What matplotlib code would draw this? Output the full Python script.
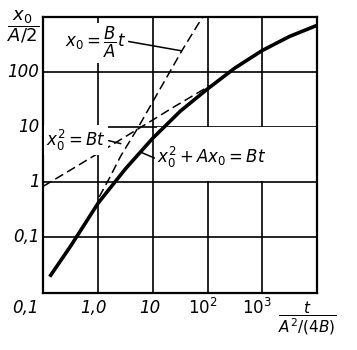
import matplotlib
matplotlib.use("Agg")
import matplotlib.pyplot as plt
from matplotlib.patches import Rectangle
from matplotlib.transforms import ScaledTranslation

plt.rcParams['font.family'] = ['DejaVu Sans']
plt.rcParams['mathtext.fontset'] = 'dejavusans'

# ---- data (t / (A^2/(4B)),  x0 / (A/2)) ----
tau_solid = [0.13, 0.32, 1, 3.2, 10, 32, 100, 316, 1000, 3160, 10000]
y_solid   = [0.0195, 0.072, 0.42, 1.78, 6.3, 19.5, 49, 117, 243, 437, 692]

tau_lin = [1.04, 1.57, 2.57, 5.4, 13.4, 35, 81]
y_lin   = [0.54, 1.14, 2.95, 9.9, 48, 254, 980]

tau_par = [0.1, 0.31, 0.55, 1.7, 5.9, 11.7, 23, 47, 110]
y_par   = [0.85, 1.66, 2.34, 4.6, 9.8, 14.8, 22.4, 34, 56]

x_ticks = [0.1, 1, 10, 100, 1000]
x_ticklabels = ['0,1', '1,0', '10', r'$\mathit{10}^{\mathit{2}}$', r'$\mathit{10}^{\mathit{3}}$']
x_label_shift_px = [-18, -5, -3, -5, -5]
y_ticks = [0.1, 1, 10, 100]
y_ticklabels = ['0,1', '1', '10', '100']

fig = plt.figure(figsize=(3.57, 3.50), dpi=100)
ax = fig.add_axes([0.1218, 0.1637, 0.766, 0.789])
ax.set_xscale('log')
ax.set_yscale('log')
ax.set_xlim(0.1, 1e4)
ax.set_ylim(0.01, 1000)

ax.set_xticks(x_ticks[1:])
ax.set_yticks(y_ticks)
ax.minorticks_off()
ax.tick_params(length=0, labelbottom=False, labelleft=False)
ax.grid(True, color='black', lw=1.2)
ax.set_axisbelow(True)
for s in ax.spines.values():
    s.set_linewidth(1.6)
    s.set_zorder(5)

# blank band where the big formula sits (grid hidden there)
ax.add_patch(Rectangle((12, 1.06), 9800, 8.8, facecolor='white', edgecolor='none', zorder=1.5))

# curves
ax.plot(tau_solid, y_solid, color='black', lw=2.6, solid_capstyle='butt', zorder=4)
ax.plot(tau_lin, y_lin, color='black', lw=1.1, linestyle=(0, (6, 3)), zorder=3)
ax.plot(tau_par, y_par, color='black', lw=1.1, linestyle=(0, (6, 3)), zorder=3)

# tick labels
for v, lab, sh in zip(x_ticks, x_ticklabels, x_label_shift_px):
    ax.text(v, -0.055, lab, transform=ax.get_xaxis_transform() + ScaledTranslation(sh / 100, 0, fig.dpi_scale_trans),
            ha='center', va='center', fontsize=12, fontstyle='italic', clip_on=False)
for v, lab in zip(y_ticks, y_ticklabels):
    ax.text(-0.015, v, lab, transform=ax.get_yaxis_transform(), ha='right', va='center',
            fontsize=12, fontstyle='italic', clip_on=False)

# axis labels
fig.text(0.066, 0.925, r'$\dfrac{x_0}{A/2}$', fontsize=13, ha='center', va='center')
fig.text(0.862, 0.091, r'$\dfrac{t}{A^2/(4B)}$', fontsize=11, ha='center', va='center')

box = dict(boxstyle='square,pad=0.15', facecolor='white', edgecolor='none')
ax.annotate(r'$x_0=\dfrac{B}{A}t$', xy=(33, 240), xytext=(0.19, 0.905), textcoords='axes fraction',
            xycoords='data', ha='center', va='center', fontsize=12, bbox=box, zorder=6,
            arrowprops=dict(arrowstyle='-', color='black', lw=1.1, relpos=(1, 0.55), shrinkA=0, shrinkB=0))
ax.annotate(r'$x_0^2=Bt$', xy=(2.6, 5.0), xytext=(0.119, 0.553), textcoords='axes fraction',
            xycoords='data', ha='center', va='center', fontsize=12, bbox=box, zorder=6,
            arrowprops=dict(arrowstyle='-', color='black', lw=1.1, relpos=(1, 0.5), shrinkA=0, shrinkB=0))
ax.annotate(r'$x_0^2+Ax_0=Bt$', xy=(tau_solid[3] * 1.8, y_solid[3] * 2.0), xytext=(0.616, 0.488), textcoords='axes fraction',
            xycoords='data', ha='center', va='center', fontsize=12, bbox=box, zorder=6,
            arrowprops=dict(arrowstyle='-', color='black', lw=1.1, relpos=(0, 0.45), shrinkA=0, shrinkB=0))

fig.savefig('out.png', dpi=100, facecolor='white')
